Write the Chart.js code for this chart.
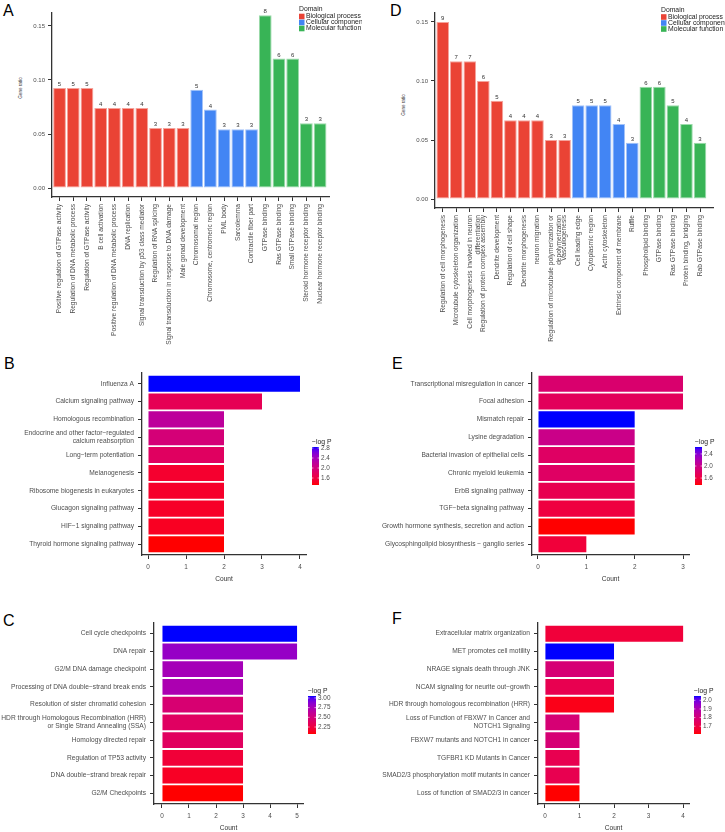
<!DOCTYPE html>
<html>
<head>
<meta charset="utf-8">
<script src="https://cdn.jsdelivr.net/npm/chart.js@4.4.1/dist/chart.umd.min.js"></script>
<style>
  body { margin: 0; background: #fff; width: 725px; height: 832px; position: relative; overflow: hidden;
         font-family: 'Liberation Sans', Arial, sans-serif; }
  canvas { position: absolute; }
  .panel { position: absolute; font-size: 16px; line-height: 16px; color: #000; }
  .ytitle { position: absolute; font-size: 4.6px; color: #333; white-space: nowrap;
            transform: translate(-50%, -50%) rotate(-90deg); }
</style>
</head>
<body>
<div class="panel" style="left:3px;top:3px">A</div>
<div class="panel" style="left:390px;top:3px">D</div>
<div class="panel" style="left:4px;top:356px">B</div>
<div class="panel" style="left:392px;top:356px">E</div>
<div class="panel" style="left:3px;top:613px">C</div>
<div class="panel" style="left:392px;top:611px">F</div>
<div class="ytitle" style="left:20px;top:88px">Gene ratio</div>
<div class="ytitle" style="left:403px;top:105px">Gene ratio</div>

<canvas id="chartA" width="362" height="355" style="left:0;top:0"></canvas>
<canvas id="chartD" width="363" height="355" style="left:362px;top:0"></canvas>
<canvas id="chartB" width="362" height="235" style="left:0;top:355px"></canvas>
<canvas id="chartE" width="363" height="235" style="left:362px;top:355px"></canvas>
<canvas id="chartC" width="362" height="242" style="left:0;top:590px"></canvas>
<canvas id="chartF" width="363" height="242" style="left:362px;top:590px"></canvas>

<script>
const FONT = "'Liberation Sans', Arial, sans-serif";
const TXT = '#4d4d4d';
const AXIS = '#333333';

// Domain legend (A and D)
const domainNames = ['Biological process', 'Cellular component', 'Molecular function'];
const domainFill = ['#EA4335', '#4285F4', '#38B456'];
const domainEdge = ['#F5A39C', '#A3C3F9', '#9CDAAB'];

// A - GO terms
const aTerms = ['Positive regulation of GTPase activity', 'Regulation of DNA metabolic process',
  'Regulation of GTPase activity', 'B cell activation', 'Positive regulation of DNA metabolic process',
  'DNA replication', 'Signal transduction by p53 class mediator', 'Regulation of RNA splicing',
  'Signal transduction in response to DNA damage', 'Male gonad development',
  'Chromosomal region', 'Chromosome, centromeric region', 'PML body', 'Sarcolemma', 'Contractile fiber part',
  'GTPase binding', 'Ras GTPase binding', 'Small GTPase binding', 'Steroid hormone receptor binding',
  'Nuclear hormone receptor binding'];
const aDomain = [0, 0, 0, 0, 0, 0, 0, 0, 0, 0, 1, 1, 1, 1, 1, 2, 2, 2, 2, 2];
const aCount = [5, 5, 5, 4, 4, 4, 4, 3, 3, 3, 5, 4, 3, 3, 3, 8, 6, 6, 3, 3];
const aRatio = [0.0926, 0.0926, 0.0926, 0.0741, 0.0741, 0.0741, 0.0741, 0.0556, 0.0556, 0.0556,
  0.0909, 0.0727, 0.0545, 0.0545, 0.0545, 0.16, 0.12, 0.12, 0.06, 0.06];
const aYTicks = ['0.00', '0.05', '0.10', '0.15'];

// D - GO terms
const dTerms = ['Regulation of cell morphogenesis', 'Microtubule cytoskeleton organization',
  ['Cell morphogenesis involved in neuron', 'differentiation'], 'Regulation of protein complex assembly',
  'Dendrite development', 'Regulation of cell shape', 'Dendrite morphogenesis', 'neuron migration',
  ['Regulation of microtubule polymerization or', 'depolymerization'], 'Vasculogenesis',
  'Cell leading edge', 'Cytoplasmic region', 'Actin cytoskeleton', 'Extrinsic component of membrane', 'Ruffle',
  'Phospholipid binding', 'GTPase binding', 'Ras GTPase binding', 'Protein binding, bridging', 'Rab GTPase binding'];
const dDomain = [0, 0, 0, 0, 0, 0, 0, 0, 0, 0, 1, 1, 1, 1, 1, 2, 2, 2, 2, 2];
const dCount = [9, 7, 7, 6, 5, 4, 4, 4, 3, 3, 5, 5, 5, 4, 3, 6, 6, 5, 4, 3];
const dRatio = [0.15, 0.1167, 0.1167, 0.1, 0.0833, 0.0667, 0.0667, 0.0667, 0.05, 0.05,
  0.0794, 0.0794, 0.0794, 0.0635, 0.0476, 0.0952, 0.0952, 0.0794, 0.0635, 0.0476];
const dYTicks = ['0.00', '0.05', '0.10', '0.15'];

// B - KEGG
const bPath = ['Influenza A', 'Calcium signaling pathway', 'Homologous recombination',
  ['Endocrine and other factor−regulated', 'calcium reabsorption'], 'Long−term potentiation', 'Melanogenesis',
  'Ribosome biogenesis in eukaryotes', 'Glucagon signaling pathway', 'HIF−1 signaling pathway',
  'Thyroid hormone signaling pathway'];
const bCount = [4, 3, 2, 2, 2, 2, 2, 2, 2, 2];
const bLogP = [2.84, 1.73, 2.20, 1.96, 1.81, 1.50, 1.47, 1.46, 1.43, 1.32];
const bBarTicks = ['2.8', '2.4', '2.0', '1.6'];
const bCountTicks = ['0', '1', '2', '3', '4'];

// C - Reactome
const cPath = ['Cell cycle checkpoints', 'DNA repair', 'G2/M DNA damage checkpoint',
  'Processing of DNA double−strand break ends', 'Resolution of sister chromatid cohesion',
  ['HDR through Homologous Recombination (HRR)', 'or Single Strand Annealing (SSA)'],
  'Homology directed repair', 'Regulation of TP53 activity', 'DNA double−strand break repair', 'G2/M Checkpoints'];
const cCount = [5, 5, 3, 3, 3, 3, 3, 3, 3, 3];
const cLogP = [3.05, 2.82, 2.76, 2.73, 2.46, 2.39, 2.38, 2.22, 2.15, 2.07];
const cBarTicks = ['3.00', '2.75', '2.50', '2.25'];
const cCountTicks = ['0', '1', '2', '3', '4', '5'];

// E - KEGG
const ePath = ['Transcriptional misregulation in cancer', 'Focal adhesion', 'Mismatch repair',
  'Lysine degradation', 'Bacterial invasion of epithelial cells', 'Chronic myeloid leukemia',
  'ErbB signaling pathway', 'TGF−beta signaling pathway', 'Growth hormone synthesis, secretion and action',
  'Glycosphingolipid biosynthesis − ganglio series'];
const eCount = [3, 3, 2, 2, 2, 2, 2, 2, 2, 1];
const eLogP = [1.85, 1.75, 2.63, 2.00, 1.79, 1.79, 1.69, 1.60, 1.37, 1.57];
const eBarTicks = ['2.4', '2.0', '1.6'];
const eCountTicks = ['0', '1', '2', '3'];

// F - Reactome
const fPath = ['Extracellular matrix organization', 'MET promotes cell motility', 'NRAGE signals death through JNK',
  'NCAM signaling for neurite out−growth', 'HDR through homologous recombination (HRR)',
  ['Loss of Function of FBXW7 in Cancer and', 'NOTCH1 Signaling'], 'FBXW7 mutants and NOTCH1 in cancer',
  'TGFBR1 KD Mutants in Cancer', 'SMAD2/3 phosphorylation motif mutants in cancer',
  'Loss of function of SMAD2/3 in cancer'];
const fCount = [4, 2, 2, 2, 2, 1, 1, 1, 1, 1];
const fLogP = [1.68, 2.05, 1.79, 1.72, 1.63, 1.79, 1.79, 1.72, 1.72, 1.61];
const fBarTicks = ['2.0', '1.9', '1.8', '1.7'];
const fCountTicks = ['0', '1', '2', '3', '4'];

// red -> blue gradient interpolated in Lab (like ggplot scale_fill_gradient)
function toLab(rgb) {
  const lin = rgb.map(c => { c /= 255; return c <= 0.04045 ? c / 12.92 : Math.pow((c + 0.055) / 1.055, 2.4); });
  const X = (0.4124 * lin[0] + 0.3576 * lin[1] + 0.1805 * lin[2]) / 0.95047;
  const Y = 0.2126 * lin[0] + 0.7152 * lin[1] + 0.0722 * lin[2];
  const Z = (0.0193 * lin[0] + 0.1192 * lin[1] + 0.9505 * lin[2]) / 1.08883;
  const f = t => t > 0.008856 ? Math.cbrt(t) : 7.787 * t + 16 / 116;
  return [116 * f(Y) - 16, 500 * (f(X) - f(Y)), 200 * (f(Y) - f(Z))];
}
function fromLab(lab) {
  const fy = (lab[0] + 16) / 116, fx = fy + lab[1] / 500, fz = fy - lab[2] / 200;
  const inv = t => t * t * t > 0.008856 ? t * t * t : (t - 16 / 116) / 7.787;
  const X = 0.95047 * inv(fx), Y = inv(fy), Z = 1.08883 * inv(fz);
  const lin = [3.2406 * X - 1.5372 * Y - 0.4986 * Z, -0.9689 * X + 1.8758 * Y + 0.0415 * Z,
    0.0557 * X - 0.2040 * Y + 1.0570 * Z];
  return lin.map(c => {
    c = c <= 0.0031308 ? 12.92 * c : 1.055 * Math.pow(c, 1 / 2.4) - 0.055;
    return Math.round(Math.min(1, Math.max(0, c)) * 255);
  });
}
const labLow = toLab([255, 0, 0]), labHigh = toLab([0, 0, 255]);
function gradColor(t) {
  const c = fromLab(labLow.map((v, i) => v + (labHigh[i] - v) * t));
  return 'rgb(' + c.join(',') + ')';
}

// count labels above the GO bars
const barNumbers = {
  id: 'barNumbers',
  afterDatasetsDraw(chart) {
    const ctx = chart.ctx;
    ctx.save();
    ctx.font = '6px ' + FONT;
    ctx.fillStyle = '#333';
    ctx.textAlign = 'center';
    ctx.textBaseline = 'bottom';
    chart.data.datasets.forEach((ds, di) => {
      chart.getDatasetMeta(di).data.forEach((el, j) => {
        ctx.fillText(ds.data[j].n, el.x, el.y - 0.5);
      });
    });
    ctx.restore();
  }
};

// "Domain" legend in the top right corner
function domainLegend(x, y) {
  return {
    id: 'domainLegend',
    afterDraw(chart) {
      const ctx = chart.ctx;
      ctx.save();
      ctx.font = '6.8px ' + FONT;
      ctx.textBaseline = 'middle';
      ctx.fillStyle = '#222';
      ctx.fillText('Domain', x, y);
      chart.data.datasets.forEach((ds, i) => {
        const yy = y + 7 + i * 6;
        ctx.fillStyle = ds.backgroundColor;
        ctx.fillRect(x, yy - 2.8, 5.5, 5.6);
        ctx.fillStyle = '#222';
        ctx.fillText(ds.label, x + 7, yy);
      });
      ctx.restore();
    }
  };
}

// -log P colour bar
function colorBar(cb, lo, hi, ticks) {
  return {
    id: 'colorBar',
    afterDraw(chart) {
      const ctx = chart.ctx;
      const grad = ctx.createLinearGradient(0, cb.y + cb.h, 0, cb.y);
      for (let k = 0; k <= 20; k++) grad.addColorStop(k / 20, gradColor(k / 20));
      ctx.save();
      ctx.fillStyle = grad;
      ctx.fillRect(cb.x, cb.y, cb.w, cb.h);
      ctx.strokeStyle = '#fff';
      ctx.lineWidth = 0.6;
      ctx.font = '6.4px ' + FONT;
      ctx.fillStyle = TXT;
      ctx.textBaseline = 'middle';
      ticks.forEach(t => {
        const yy = cb.y + (hi - parseFloat(t)) / (hi - lo) * cb.h;
        ctx.beginPath();
        ctx.moveTo(cb.x, yy); ctx.lineTo(cb.x + cb.w * 0.2, yy);
        ctx.moveTo(cb.x + cb.w * 0.8, yy); ctx.lineTo(cb.x + cb.w, yy);
        ctx.stroke();
        ctx.fillText(t, cb.x + cb.w + 2, yy);
      });
      ctx.font = '6.8px ' + FONT;
      ctx.fillStyle = '#222';
      ctx.textBaseline = 'alphabetic';
      ctx.fillText('−log P', cb.x, cb.y - 3);
      ctx.restore();
    }
  };
}

function axisStyle() {
  return {
    offset: false,
    grid: { display: true, offset: false, drawOnChartArea: false, drawTicks: true, tickLength: 4,
            color: AXIS, lineWidth: 1 },
    border: { display: true, color: AXIS, width: 1.3 }
  };
}

function goChart(id, terms, domain, count, ratio, yTicks, g) {
  const datasets = domainNames.map((name, d) => ({
    label: name,
    data: terms.map((t, i) => ({ x: i, y: ratio[i], n: count[i] })).filter((p, i) => domain[i] === d),
    backgroundColor: domainFill[d],
    borderColor: domainEdge[d],
    borderWidth: 1,
    borderSkipped: false,
    grouped: false,
    barPercentage: 0.93,
    categoryPercentage: 1
  }));
  new Chart(document.getElementById(id), {
    type: 'bar',
    data: { datasets: datasets },
    options: {
      responsive: false,
      animation: false,
      layout: { padding: { left: 0, right: g.pr, top: g.pt, bottom: 0 } },
      plugins: { legend: { display: false }, tooltip: { enabled: false } },
      scales: {
        x: Object.assign(axisStyle(), {
          type: 'linear', min: g.xmin, max: g.xmax, bounds: 'data',
          afterBuildTicks: ax => { ax.ticks = terms.map((t, i) => ({ value: i })); },
          afterFit: ax => { ax.height = g.xh; },
          ticks: { autoSkip: false, minRotation: 90, maxRotation: 90, padding: 3, color: TXT,
                   font: { size: 6.6, family: FONT }, callback: (v, i) => terms[i] }
        }),
        y: Object.assign(axisStyle(), {
          type: 'linear', min: g.ymin, max: g.ymax, bounds: 'data',
          afterBuildTicks: ax => { ax.ticks = yTicks.map(t => ({ value: parseFloat(t) })); },
          afterFit: ax => { ax.width = g.yw; },
          ticks: { autoSkip: false, padding: 3, color: TXT, font: { size: 6, family: FONT },
                   callback: (v, i) => yTicks[i] }
        })
      }
    },
    plugins: [barNumbers, domainLegend(g.lx, g.ly)]
  });
}

function pathwayChart(id, names, counts, logP, barTicks, countTicks, g) {
  const lo = Math.min(...logP), hi = Math.max(...logP);
  new Chart(document.getElementById(id), {
    type: 'bar',
    data: {
      datasets: [{
        data: names.map((n, i) => ({ x: counts[i], y: i })),
        backgroundColor: logP.map(v => gradColor((v - lo) / (hi - lo))),
        borderWidth: 0,
        barPercentage: 0.9,
        categoryPercentage: 1
      }]
    },
    options: {
      indexAxis: 'y',
      responsive: false,
      animation: false,
      layout: { padding: { left: 0, right: g.pr, top: g.pt, bottom: 0 } },
      plugins: { legend: { display: false }, tooltip: { enabled: false } },
      scales: {
        x: Object.assign(axisStyle(), {
          type: 'linear', min: g.xmin, max: g.xmax, bounds: 'data',
          afterBuildTicks: ax => { ax.ticks = countTicks.map(t => ({ value: parseFloat(t) })); },
          afterFit: ax => { ax.height = g.xh; },
          ticks: { autoSkip: false, padding: 4, color: TXT, font: { size: 6.4, family: FONT },
                   callback: (v, i) => countTicks[i] },
          title: { display: true, text: 'Count', color: '#333', font: { size: 6.6, family: FONT },
                   padding: { top: 0, bottom: g.tp } }
        }),
        y: Object.assign(axisStyle(), {
          type: 'linear', reverse: true, min: -0.6, max: names.length - 0.4, bounds: 'data',
          afterBuildTicks: ax => { ax.ticks = names.map((n, i) => ({ value: i })); },
          afterFit: ax => { ax.width = g.yw; },
          ticks: { autoSkip: false, padding: 4, color: TXT, font: { size: 6.65, family: FONT },
                   callback: (v, i) => names[i] }
        })
      }
    },
    plugins: [colorBar(g.cb, lo, hi, barTicks)]
  });
}

goChart('chartA', aTerms, aDomain, aCount, aRatio, aYTicks,
  { pr: 33, pt: 13, xh: 158, yw: 52, xmin: -0.55, xmax: 19.65, ymin: -0.0083, ymax: 0.162, lx: 299, ly: 9.5 });
goChart('chartD', dTerms, dDomain, dCount, dRatio, dYTicks,
  { pr: 12, pt: 13, xh: 147, yw: 73, xmin: -0.57, xmax: 19.96, ymin: -0.0076, ymax: 0.1576, lx: 299, ly: 10 });

pathwayChart('chartB', bPath, bCount, bLogP, bBarTicks, bCountTicks,
  { pr: 56, pt: 18, xh: 35, yw: 142, xmin: -0.158, xmax: 4.158, tp: 7, cb: { x: 312, y: 92, w: 7, h: 38 } });
pathwayChart('chartE', ePath, eCount, eLogP, eBarTicks, eCountTicks,
  { pr: 36, pt: 18, xh: 35, yw: 170, xmin: -0.124, xmax: 3.124, tp: 7, cb: { x: 333, y: 92, w: 7, h: 38 } });
pathwayChart('chartC', cPath, cCount, cLogP, cBarTicks, cCountTicks,
  { pr: 59, pt: 33, xh: 28, yw: 154, xmin: -0.295, xmax: 5.22, tp: 0, cb: { x: 308, y: 106, w: 8, h: 38 } });
pathwayChart('chartF', fPath, fCount, fLogP, fBarTicks, fCountTicks,
  { pr: 36, pt: 33, xh: 28, yw: 176, xmin: -0.2, xmax: 4.17, tp: 0, cb: { x: 332, y: 106, w: 7, h: 38 } });
</script>
</body>
</html>
